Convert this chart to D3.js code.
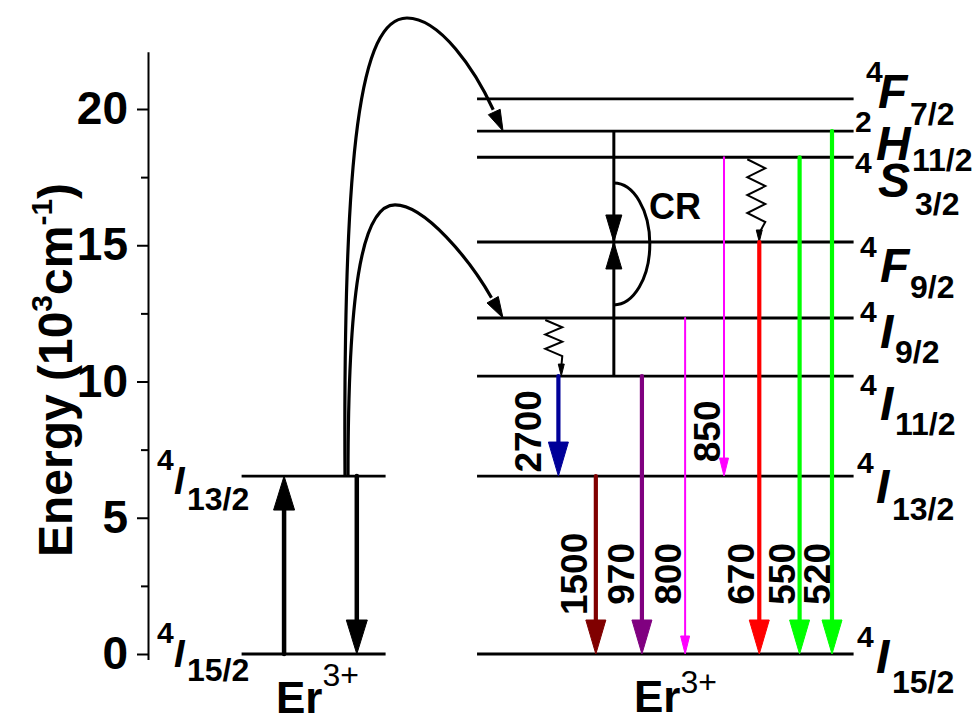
<!DOCTYPE html>
<html>
<head>
<meta charset="utf-8">
<script src="https://cdn.jsdelivr.net/npm/d3@7"></script>
<style>
  body { margin: 0; background: #fff; }
  svg { display: block; }
  text { font-family: "Liberation Sans", Arial, Helvetica, sans-serif; font-weight: bold; }
</style>
</head>
<body>
<script>
// Er3+ energy levels, 10^3 cm^-1
var levelEnergy = [0, 6.53, 10.2, 12.33, 15.12, 18.23, 19.19, 20.37];
var levelSup    = ["4", "4", "4", "4", "4", "4", "2", "4"];
var levelTerm   = ["I", "I", "I", "I", "F", "S", "H", "F"];
var levelSub    = ["15/2", "13/2", "11/2", "9/2", "9/2", "3/2", "11/2", "7/2"];

// left ion only shows the two lowest levels
var leftLevels = [0, 1];

// emissions: wavelength (nm), upper level, lower level
var emWave = ["2700", "1500", "970", "800", "850", "670", "550", "520"];
var emFrom = [2, 1, 2, 3, 5, 4, 5, 6];
var emTo   = [1, 0, 0, 0, 1, 0, 0, 0];

// non-radiative relaxations: upper level, lower level
var nrFrom = [5, 3];
var nrTo   = [4, 2];

var majorTicks = [0, 5, 10, 15, 20];
var minorTicks = [2.5, 7.5, 12.5, 17.5];

// ---- layout (diagram x units 0..100) ----
var emX     = [57.0, 62.2, 68.6, 74.6, 80.0, 84.9, 90.5, 95.0];
var emColor = ["#000099", "#800000", "#800080", "#ff00ff", "#ff00ff", "#ff0000", "#00ff00", "#00ff00"];
var emThin  = [false, false, false, true, true, false, false, false];
var emLabelE = [8.17, 2.94, 2.94, 2.94, 8.17, 2.94, 2.94, 2.94];
var emLabelDx = [-17, -9, -8, -4, -4, -5, -5, -2];

var nrX = [84.9, 57.4];
var nrSteps = [7, 5];

var W = 974, H = 723;

var svg = d3.select("body").append("svg")
    .attr("width", W)
    .attr("height", H);

var y = d3.scaleLinear().domain([0, 20]).range([654, 109]);
var x = d3.scaleLinear().domain([0, 100]).range([148, 868]);

// ---- axis ----
var axisScale = y.copy().domain([-0.2, 22.1]).range([y(-0.2), y(22.1)]);

var axisG = svg.append("g")
    .attr("transform", "translate(" + x(0) + ",0)")
    .call(d3.axisLeft(axisScale)
        .tickValues(majorTicks)
        .tickSize(11)
        .tickSizeOuter(0)
        .tickPadding(9)
        .tickFormat(d3.format("d")))
    .attr("font-family", null)
    .attr("font-size", 46);

axisG.select(".domain").attr("stroke-width", 2);
axisG.selectAll(".tick line").attr("stroke-width", 2);

var minorG = svg.append("g")
    .attr("transform", "translate(" + x(0) + ",0)")
    .call(d3.axisLeft(axisScale)
        .tickValues(minorTicks)
        .tickSize(7)
        .tickFormat(""));
minorG.select(".domain").remove();
minorG.selectAll(".tick line").attr("stroke-width", 2);

svg.append("text")
    .attr("transform", "translate(72,370) rotate(-90)")
    .attr("text-anchor", "middle")
    .attr("font-size", 48)
    .call(function (t) {
        t.append("tspan").text("Energy (10");
        t.append("tspan").attr("font-size", 30).attr("dy", -20).text("3");
        t.append("tspan").attr("dy", 20).text("cm");
        t.append("tspan").attr("font-size", 30).attr("dy", -20).text("-1");
        t.append("tspan").attr("dy", 20).text(")");
    });

// ---- helpers ----
function head(g, tx, ty, dx, dy, len, wid, color) {
    var n = Math.sqrt(dx * dx + dy * dy);
    dx /= n; dy /= n;
    var bx = tx - dx * len, by = ty - dy * len;
    var px = -dy * wid / 2, py = dx * wid / 2;
    g.append("path")
        .attr("d", "M" + tx + "," + ty + "L" + (bx + px) + "," + (by + py) + "L" + (bx - px) + "," + (by - py) + "Z")
        .attr("fill", color)
        .attr("stroke", color)
        .attr("stroke-width", 1)
        .attr("stroke-linejoin", "miter");
}

function vArrow(g, xp, y0, y1, color, sw, len, wid) {
    var dir = y1 > y0 ? 1 : -1;
    g.append("line")
        .attr("x1", xp).attr("x2", xp)
        .attr("y1", y0).attr("y2", y1 - dir * len * 0.7)
        .attr("stroke", color)
        .attr("stroke-width", sw)
        .attr("stroke-linecap", "round");
    head(g, xp, y1, 0, dir, len, wid, color);
}

// ---- level lines ----
var levelsG = svg.append("g").attr("stroke", "#000").attr("stroke-width", 2.8);

levelsG.selectAll("line.r")
    .data(levelEnergy)
    .enter().append("line")
    .attr("class", "r")
    .attr("x1", x(45.7)).attr("x2", x(98))
    .attr("y1", function (d) { return y(d); })
    .attr("y2", function (d) { return y(d); });

levelsG.selectAll("line.l")
    .data(leftLevels)
    .enter().append("line")
    .attr("class", "l")
    .attr("x1", x(13)).attr("x2", x(33))
    .attr("y1", function (i) { return y(levelEnergy[i]); })
    .attr("y2", function (i) { return y(levelEnergy[i]); });

// ---- level labels (right) ----
var supDy  = [-7, -3, 19, 4, 15, 16, 1, -17];
var termDy = [19, 27, 44, 30, 40, 40, 29, 9];
var subDy  = [39, 44, 59, 45, 56, 58, 40, 26];
var supX   = [857, 857, 860, 860, 860, 855, 855, 866];
var termX  = [876, 876, 880, 880, 880, 878, 876, 878];
var subX   = [892, 892, 895, 895, 910, 915, 912, 910];

var labG = svg.append("g");
levelEnergy.forEach(function (e, i) {
    var yy = y(e);
    labG.append("text").attr("x", supX[i]).attr("y", yy + supDy[i]).attr("font-size", 30).text(levelSup[i]);
    labG.append("text").attr("x", termX[i]).attr("y", yy + termDy[i]).attr("font-size", 48)
        .attr("font-style", "italic").text(levelTerm[i]);
    labG.append("text").attr("x", subX[i]).attr("y", yy + subDy[i]).attr("font-size", 32).text(levelSub[i]);
});

// left labels
var lSupDy = [-11, -6], lTermDy = [13, 18], lSubDy = [27, 34];
leftLevels.forEach(function (li, k) {
    var yy = y(levelEnergy[li]);
    labG.append("text").attr("x", 157).attr("y", yy + lSupDy[k]).attr("font-size", 30).text(levelSup[li]);
    labG.append("text").attr("x", 174).attr("y", yy + lTermDy[k]).attr("font-size", 38)
        .attr("font-style", "italic").text(levelTerm[li]);
    labG.append("text").attr("x", 187).attr("y", yy + lSubDy[k]).attr("font-size", 32).text(levelSub[li]);
});

// Er3+ labels
function ionLabel(xp, yp, supDyv) {
    var t = svg.append("text").attr("x", xp).attr("y", yp).attr("font-size", 44);
    t.append("tspan").text("Er");
    t.append("tspan").attr("font-size", 32).attr("font-weight", "normal").attr("dy", supDyv).text("3+");
}
ionLabel(276, 713, -27);
ionLabel(634, 712, -19);

// ---- left ion pump / decay ----
var leftG = svg.append("g");
vArrow(leftG, x(18.9), y(levelEnergy[0]), y(levelEnergy[1]), "#000", 4.5, 34, 21);
vArrow(leftG, x(29.0), y(levelEnergy[1]), y(levelEnergy[0]), "#000", 4.5, 34, 21);

// ---- energy transfer curves ----
var curveOuter = [[27.36, 6.53], [27.08, 18.5], [29.44, 23.34], [35.97, 23.34], [40.56, 23.34], [45.42, 21.43], [49.31, 19.19]];
var curveInner = [[27.78, 6.53], [27.78, 12.99], [29.44, 16.48], [34.31, 16.48], [38.47, 16.48], [44.72, 14.46], [49.31, 12.33]];

[curveOuter, curveInner].forEach(function (c) {
    var p = c.map(function (d) { return [x(d[0]), y(d[1])]; });
    var path = d3.path();
    path.moveTo(p[0][0], p[0][1]);
    path.bezierCurveTo(p[1][0], p[1][1], p[2][0], p[2][1], p[3][0], p[3][1]);
    // stop a little short of the tip so the head covers the end
    var q = p.slice(3);
    path.bezierCurveTo(q[1][0], q[1][1], q[2][0], q[2][1], q[3][0] - (q[3][0] - q[2][0]) * 0.35, q[3][1] - (q[3][1] - q[2][1]) * 0.35);
    svg.append("path")
        .attr("d", path.toString())
        .attr("fill", "none")
        .attr("stroke", "#000")
        .attr("stroke-width", 3.2);
    head(svg, q[3][0], q[3][1], q[3][0] - q[2][0], q[3][1] - q[2][1], 21, 13, "#000");
});

// ---- cross relaxation ----
var crG = svg.append("g");
var crX = x(64.7);
crG.append("line")
    .attr("x1", crX).attr("x2", crX)
    .attr("y1", y(levelEnergy[6])).attr("y2", y(levelEnergy[2]))
    .attr("stroke", "#000").attr("stroke-width", 3);
head(crG, crX, y(levelEnergy[4]), 0, 1, 27, 16, "#000");
head(crG, crX, y(levelEnergy[4]), 0, -1, 27, 16, "#000");
var arcTop = y(17.28), arcBot = y(12.81);
crG.append("path")
    .attr("d", "M" + crX + "," + arcTop + "A36," + ((arcBot - arcTop) / 2) + " 0 0 1 " + crX + "," + arcBot)
    .attr("fill", "none")
    .attr("stroke", "#000")
    .attr("stroke-width", 3);
crG.append("text").attr("x", 649).attr("y", 219).attr("font-size", 36).text("CR");

// ---- non-radiative zigzags ----
var nrG = svg.append("g");
nrFrom.forEach(function (f, i) {
    var ax = x(nrX[i]);
    var top = y(levelEnergy[f]) + 2;
    var bot = y(levelEnergy[nrTo[i]]);
    var n = nrSteps[i];
    var amp = i === 0 ? 9 : 8.5;
    var cx = ax - (i === 0 ? 3 : 7.5);
    var step = (bot - 20 - top) / n;
    var pts = [[cx - amp, top]];
    for (var k = 1; k <= n; k++) {
        pts.push([k % 2 ? cx + amp : cx - amp, top + k * step]);
    }
    pts.push([ax, bot - 9]);
    nrG.append("path")
        .attr("d", d3.line()(pts))
        .attr("fill", "none")
        .attr("stroke", "#000")
        .attr("stroke-width", 2)
        .attr("stroke-linejoin", "miter");
    head(nrG, ax, bot, 0, 1, 12, 6, "#000");
});

// ---- emission arrows ----
var emG = svg.append("g");
emWave.forEach(function (w, i) {
    var xp = x(emX[i]);
    var thin = emThin[i];
    vArrow(emG, xp, y(levelEnergy[emFrom[i]]), y(levelEnergy[emTo[i]]), emColor[i],
        thin ? 2 : 4.2, thin ? 18 : 34, thin ? 9 : 20);
    emG.append("text")
        .attr("transform", "translate(" + (xp + emLabelDx[i]) + "," + y(emLabelE[i]) + ") rotate(-90)")
        .attr("text-anchor", "middle")
        .attr("font-size", 37)
        .text(w);
});
</script>
</body>
</html>
